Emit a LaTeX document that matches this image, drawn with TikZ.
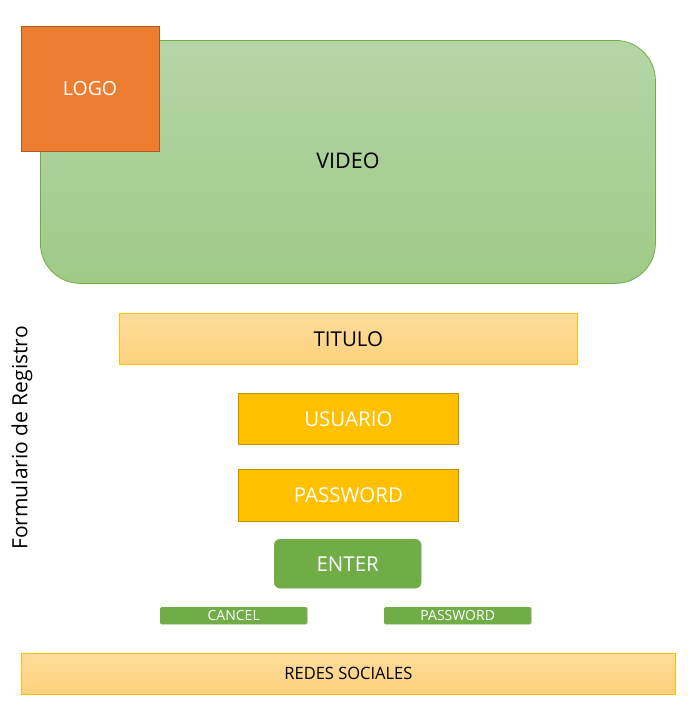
\documentclass[tikz,border=0pt]{standalone}
\usepackage{fontspec}
\setmainfont{Open Sans}
\definecolor{vgreenT}{HTML}{B5D5A7}
\definecolor{vgreenB}{HTML}{9FCA87}
\definecolor{vborder}{HTML}{70AD47}
\definecolor{logofill}{HTML}{ED7D31}
\definecolor{logoborder}{HTML}{AE5A21}
\definecolor{titT}{HTML}{FEDC9C}
\definecolor{titB}{HTML}{FED27C}
\definecolor{titborder}{HTML}{FFC000}
\definecolor{inpfill}{HTML}{FFC000}
\definecolor{inpborder}{HTML}{BF9000}
\definecolor{btnfill}{HTML}{70AD47}
\begin{document}
\begin{tikzpicture}[x=1pt,y=-1pt,
  box/.style={minimum width=#1, inner sep=0pt, anchor=north west},
  big/.style={font=\fontsize{20.5}{24}\selectfont},
  small/.style={font=\fontsize{14}{16}\selectfont},
  pale/.style={top color=titT, bottom color=titB, draw=titborder, line width=0.8pt},
  inp/.style={fill=inpfill, draw=inpborder, line width=0.8pt, text=white, big},
  btn/.style={fill=btnfill, draw=btnfill, text=white}]
\useasboundingbox (0,0) rectangle (696,720);
\node[box=615pt, minimum height=243pt, rounded corners=40pt, top color=vgreenT, bottom color=vgreenB, draw=vborder, line width=0.8pt] (video) at (40,40) {};
\node[font=\fontsize{21.5}{25}\selectfont] (videotext) at (348,161) {VIDEO};
\node[box=138pt, minimum height=125pt, fill=logofill, draw=logoborder, line width=0.8pt] (logo) at (21,26) {};
\node[text=white, font=\fontsize{19.5}{23}\selectfont] (logotext) at (90,88.5) {LOGO};
\node[box=458pt, minimum height=51pt, pale, big] (titulo) at (119,313) {TITULO};
\node[box=220pt, minimum height=51pt, inp] (usuario) at (238,393) {USUARIO};
\node[box=220pt, minimum height=52pt, inp] (password) at (238,469) {PASSWORD};
\node[box=147pt, minimum height=49pt, btn, rounded corners=6pt, big] (enter) at (274,539) {ENTER};
\node[box=147pt, minimum height=17pt, btn, rounded corners=1.5pt, small] (cancel) at (160,607) {CANCEL};
\node[box=147pt, minimum height=17pt, btn, rounded corners=1.5pt, small] (pass2) at (384,607) {PASSWORD};
\node[box=654pt, minimum height=41pt, pale, font=\fontsize{17}{20}\selectfont\addfontfeatures{FakeStretch=0.97}] (redes) at (21,653) {REDES SOCIALES};
\node[rotate=90, font=\fontsize{21}{25}\selectfont] (form) at (22,438) {Formulario de Registro};
\end{tikzpicture}
\end{document}
